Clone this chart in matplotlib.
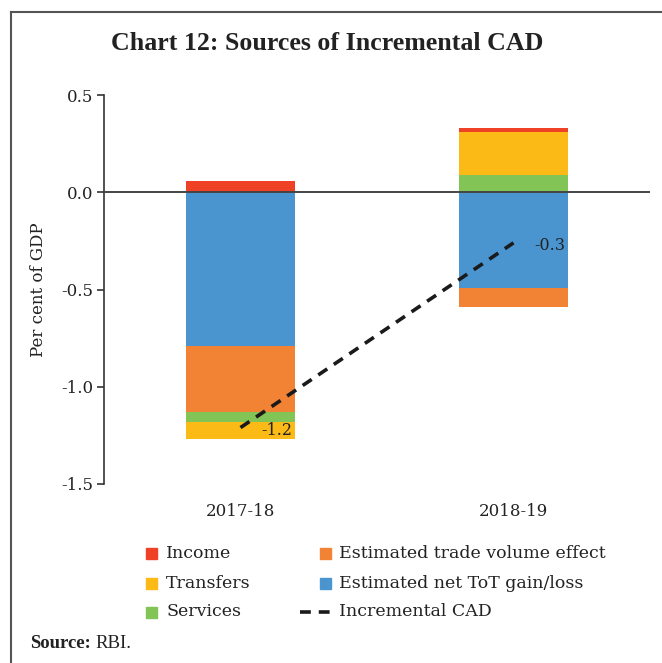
import matplotlib
matplotlib.use("Agg")
import matplotlib.pyplot as plt
from matplotlib.patches import Rectangle
from matplotlib.lines import Line2D
import numpy as np

plt.rcParams["font.family"] = ["DejaVu Serif", "Liberation Serif"]
plt.rcParams["axes.unicode_minus"] = False
TITLE_FONT = ["Liberation Serif", "DejaVu Serif"]

years = ["2017-18", "2018-19"]
# components in stacking order (away from zero)
components = ["Estimated net ToT gain/loss", "Estimated trade volume effect",
              "Services", "Transfers", "Income"]
tot_gain = [-0.79, -0.49]
trade_volume = [-0.34, -0.10]
services = [-0.05, 0.09]
transfers = [-0.09, 0.22]
income = [0.06, 0.02]
incremental_cad = [-1.21, -0.26]

colors = {
    "Income": "#EE4126",
    "Transfers": "#FBBA16",
    "Services": "#82C455",
    "Estimated trade volume effect": "#F28234",
    "Estimated net ToT gain/loss": "#4A95D0",
}

series = dict(zip(components, [tot_gain, trade_volume, services, transfers, income]))

W, H = 662, 663
fig = plt.figure(figsize=(W / 100, H / 100), dpi=100)

def px(x, y):
    return x / W, 1 - y / H

# plot area in pixels: left 104, right 650, top 95, bottom 484
ax = fig.add_axes([104 / W, 1 - 484 / H, (650 - 104) / W, (484 - 95) / H])

x = np.arange(len(years))
pos_base = np.zeros(len(years))
neg_base = np.zeros(len(years))
for name in components:
    vals = np.array(series[name])
    base = np.where(vals >= 0, pos_base, neg_base)
    ax.bar(x, vals, width=0.4, bottom=base, color=colors[name], zorder=2,
           edgecolor="none")
    pos_base = pos_base + np.where(vals >= 0, vals, 0)
    neg_base = neg_base + np.where(vals < 0, vals, 0)

ax.axhline(0, color="#444444", lw=1.4, zorder=3)
ax.plot(x, incremental_cad, color="#1a1a1a", lw=2.6, ls=(0, (3, 2.2)), zorder=4)
for xi, v in zip(x, incremental_cad):
    ax.annotate(f"{v:.1f}", (xi, v), xytext=(15, -2), textcoords="offset points",
                ha="left", va="center", fontsize=11.5, color="#222222", zorder=5)

ax.set_xlim(-0.5, 1.5)
ax.set_ylim(-1.5, 0.5)
ax.set_yticks([0.5, 0.0, -0.5, -1.0, -1.5])
ax.set_yticklabels(["0.5", "0.0", "-0.5", "-1.0", "-1.5"])
ax.set_xticks(x)
ax.set_xticklabels(years)
ax.tick_params(axis="x", length=0, pad=14, labelsize=12, labelcolor="#222222")
ax.tick_params(axis="y", length=5, width=1.2, pad=3, labelsize=12,
               labelcolor="#222222", color="#333333")
for s in ["top", "right", "bottom"]:
    ax.spines[s].set_visible(False)
ax.spines["left"].set_color("#333333")
ax.spines["left"].set_linewidth(1.2)
ax.set_ylabel("Per cent of GDP", fontsize=12, color="#222222", labelpad=10)

# title
fig.text(*px(327, 43), "Chart 12: Sources of Incremental CAD", ha="center",
         va="center", fontsize=18.6, fontweight="bold", color="#222222",
         family=TITLE_FONT)

# outer frame (top and left rules)
fig.add_artist(Line2D([11 / W, 11 / W], [0, 1 - 12 / H], transform=fig.transFigure,
                      color="#555555", lw=1.5))
fig.add_artist(Line2D([11 / W, 1], [1 - 12 / H, 1 - 12 / H], transform=fig.transFigure,
                      color="#555555", lw=1.5))

# legend
legend_items = [
    ("Income", 146, 166, 553, "sq"),
    ("Transfers", 146, 166, 583, "sq"),
    ("Services", 146, 166, 612, "sq"),
    ("Estimated trade volume effect", 320, 339, 553, "sq"),
    ("Estimated net ToT gain/loss", 320, 339, 583, "sq"),
    ("Incremental CAD", 300, 339, 612, "line"),
]
for label, hx, tx, cy, kind in legend_items:
    if kind == "sq":
        x0, y0 = px(hx, cy + 6)
        fig.add_artist(Rectangle((x0, y0), 11 / W, 11 / H, transform=fig.transFigure,
                                 color=colors[label]))
    else:
        fig.add_artist(Line2D([300 / W, 332 / W], [1 - cy / H] * 2,
                              transform=fig.transFigure, color="#1a1a1a", lw=2.6,
                              ls=(0, (3, 2.2))))
    fig.text(*px(tx, cy), label, ha="left", va="center", fontsize=12.5, color="#222222")

# source note
fig.text(*px(30, 643), "Source:", ha="left", va="center", fontsize=13.5,
         fontweight="bold", color="#222222", family=TITLE_FONT)
fig.text(*px(95, 643), "RBI.", ha="left", va="center", fontsize=13.5,
         color="#222222", family=TITLE_FONT)

fig.savefig("out.png", dpi=100)
